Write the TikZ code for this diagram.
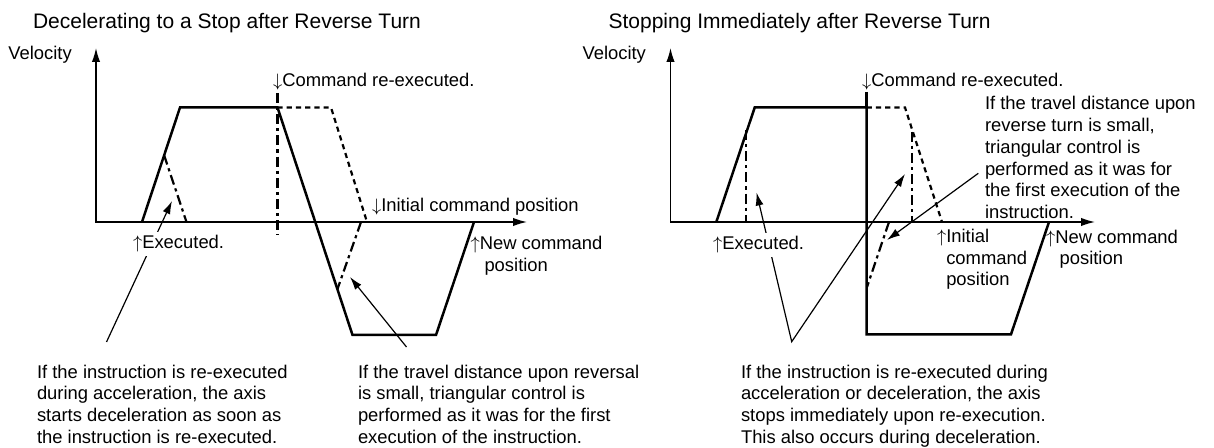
\documentclass[tikz,border=0pt]{standalone}
\usepackage{fontspec}
\setmainfont{Liberation Sans}
\usetikzlibrary{arrows.meta}

\newcommand{\lblsize}{\fontsize{9.2pt}{10.85pt}\selectfont}
\newcommand{\ttlsize}{\fontsize{10.5pt}{12.6pt}\selectfont}
\newcommand{\uar}{$\uparrow$}
\newcommand{\dar}{$\downarrow$}

\begin{document}
\begin{tikzpicture}[x=0.5pt,y=-0.5pt,font=\lblsize,
  axline/.style={line width=0.7pt, {Latex[length=7pt,width=4.2pt]}-{Latex[length=7pt,width=4.2pt]}},
  prof/.style={line width=1.25pt},
  shdash/.style={line width=1.1pt, dash pattern=on 2.6pt off 2pt},
  dshdot/.style={line width=1.1pt, dash pattern=on 5pt off 2pt on 1.6pt off 2pt},
  callout/.style={line width=0.6pt, -{Latex[length=6.5pt,width=4pt]}},
  vcallout/.style={callout, {Latex[length=6.5pt,width=4pt]}-{Latex[length=6.5pt,width=4pt]}},
  lbl/.style={inner sep=0pt, outer sep=0pt, anchor=base west},
  note/.style={inner sep=0pt, outer sep=0pt, anchor=north west, align=left},
  ttl/.style={lbl, font=\ttlsize}]
  \useasboundingbox (0,0) rectangle (1214,448);

  % left: decelerating to a stop
  \node[ttl] (lttl) at (33,28.3) {Decelerating to a Stop after Reverse Turn};
  \node[lbl] (lvel) at (8.3,60) {Velocity};
  \draw[axline] (96,48) |- (527,222);
  \draw[prof] (142,222) -- (180,107.5) -- (277.5,107.5) -- (352.5,335) -- (436,335) -- (474,222);
  \draw[dshdot] (277.5,93) -- (277.5,235);
  \draw[dshdot] (164,155) -- (186.5,222);
  \draw[shdash] (277.5,107.5) -- (331,107.5) -- (367,222);
  \draw[dshdot] (361,222) -- (337.5,289);

  \coordinate (la1) at (106.5,342);
  \coordinate (la1h) at (172,201);
  \coordinate (la2) at (406.5,347);
  \coordinate (la2h) at (350,277);
  \draw[callout] (la1) -- (la1h);
  \draw[callout] (la2) -- (la2h);

  \node[lbl] (lcmd) at (273,87) {\dar Command re-executed.};
  \node[lbl] (linit) at (372,211.7) {\dar Initial command position};
  \node[lbl, fill=white, inner sep=2pt] (lexe) at (129,249) {\uar Executed.};
  \node[note] (lnew) at (470.5,234.8) {\strut\uar New command\\\hspace*{7pt}position};
  \node[note] (lnote1) at (37,363.1) {\strut If the instruction is re-executed\\during acceleration, the axis\\starts deceleration as soon as\\the instruction is re-executed.};
  \node[note] (lnote2) at (358,363.1) {\strut If the travel distance upon reversal\\is small, triangular control is\\performed as it was for the first\\execution of the instruction.};

  % right: stopping immediately
  \node[ttl] (rttl) at (608.6,28.3) {Stopping Immediately after Reverse Turn};
  \node[lbl] (rvel) at (582.5,60) {Velocity};
  \draw[axline] (670.5,48) |- (1095,222);
  \draw[prof] (716.3,222) -- (754.7,107.5) -- (866.7,107.5) -- (866.7,334.3) -- (1011,334.3) -- (1049,222);
  \draw[prof] (866.7,92) -- (866.7,107.5);
  \draw[dshdot] (746,130) -- (746,222);
  \draw[shdash] (866.7,107.5) -- (905,107.5) -- (942,222);
  \draw[dshdot] (911.7,131.7) -- (911.7,222);
  \draw[dshdot] (889,222) -- (867,287);

  \coordinate (rapex) at (791.7,341.7);
  \coordinate (ra1h) at (756.5,192.5);
  \coordinate (ra2h) at (905,174);
  \coordinate (ra3) at (978.3,173.3);
  \coordinate (ra3h) at (887,240);
  \draw[vcallout] (ra1h) -- (rapex) -- (ra2h);
  \draw[callout] (ra3) -- (ra3h);

  \node[lbl] (rcmd) at (862,87) {\dar Command re-executed.};
  \node[note] (rtri) at (985,94.8) {\strut If the travel distance upon\\reverse turn is small,\\triangular control is\\performed as it was for\\the first execution of the\\instruction.};
  \node[note] (rinit) at (937,227.4) {\strut\uar Initial\\\hphantom{\uar}command\\\hphantom{\uar}position};
  \node[note] (rnew) at (1046,228.1) {\strut\uar New command\\\hspace*{6.8pt}position};
  \node[lbl, fill=white, inner sep=2pt] (rexe) at (709,250) {\uar Executed.};
  \node[note] (rnote) at (741,363.1) {\strut If the instruction is re-executed during\\acceleration or deceleration, the axis\\stops immediately upon re-execution.\\This also occurs during deceleration.};
\end{tikzpicture}
\end{document}
